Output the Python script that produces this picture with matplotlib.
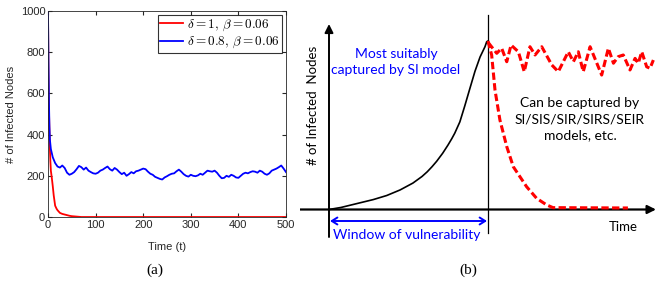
import matplotlib.pyplot as plt
from matplotlib.patches import FancyArrowPatch

# ---- panel (a): simulated infections ----
red_t = [0, 1, 2, 3, 4, 5, 6, 8, 10, 12, 15, 18, 20, 25, 30, 35, 40, 45, 50, 55, 60, 65, 70, 500]
red_v = [1000, 700, 520, 420, 330, 270, 225, 190, 150, 105, 55, 40, 33, 20, 15, 12, 9, 6, 4, 3, 2, 1, 0, 0]

blue_t = [0, 1, 2, 3, 4, 6, 8] + list(range(10, 501, 5))
blue_v = [1000, 750, 560, 440, 375, 330, 310,
          290, 262, 245, 240, 250, 238, 215, 205, 210, 218,
          232, 248, 242, 230, 240, 225, 218, 212, 210, 215,
          225, 230, 238, 245, 232, 225, 238, 230, 218, 208,
          215, 200, 208, 218, 212, 222, 225, 230, 235, 232,
          220, 210, 205, 195, 190, 185, 182, 192, 198, 205,
          210, 212, 222, 230, 220, 208, 200, 196, 205, 200,
          198, 202, 210, 205, 215, 225, 222, 220, 225, 215,
          200, 188, 190, 200, 195, 205, 200, 192, 190, 200,
          210, 215, 212, 218, 222, 220, 215, 225, 220, 210,
          205, 212, 225, 230, 235, 242, 250, 235, 218]

# ---- panel (b): schematic curves (time 0..100 = window, peak = 100) ----
si_t = [0, 7.5, 15.3, 27.9, 36.3, 44.7, 52.8, 58.5, 61.8, 64.8, 67.7, 71.5, 74.8, 77.2, 79.1, 82.3,
        85.4, 88.6, 91.8, 95.0, 98.1, 99.2, 100]
si_v = [0, 1.2, 3.0, 5.9, 8.3, 11.6, 15.7, 19.6, 22.4, 25.4, 28.6, 33.4, 38.2, 42.0, 45.3, 52.0,
        61.5, 71.8, 82.0, 90.5, 96.6, 99.6, 100]

decay_t = [100, 102.3, 104.4, 107.5, 111.8, 115.9, 124.3, 130.6, 136.9, 140.9, 188]
decay_v = [100, 91.7, 70.9, 53.1, 37.3, 25.4, 13.5, 6.6, 2.7, 1.1, 0.9]

osc_t = [100.2, 105.5, 108.6, 111.8, 114.5, 119.1, 122.8, 126.4, 129.6, 133.8,
         140.1, 144.2, 150.5, 153.7, 156.8, 159.9, 164.2, 171.5, 175.7, 178.9,
         181.9, 185.1, 189.3, 192.5, 194.5, 196.7, 199.8, 201.9, 204.0]
osc_v = [99.0, 92.7, 95.7, 87.7, 97.6, 93.6, 81.8, 96.6, 91.7, 96.6,
         85.8, 81.8, 93.6, 87.7, 93.6, 81.8, 96.6, 79.8, 95.7, 86.8,
         90.7, 91.7, 82.8, 89.7, 86.8, 93.6, 84.7, 83.8, 88.7]

W, H = 657, 286
fig = plt.figure(figsize=(W / 100, H / 100), dpi=100)
plt.rcParams['mathtext.fontset'] = 'cm'

tick_col = '#262626'
sans = 'Liberation Sans'

ax = fig.add_axes([48 / W, (H - 217) / H, 238 / W, 206 / H])
ax.plot(red_t, red_v, color='#ff0000', lw=1.3, label=r'$\mathbf{\delta = 1,\, \beta = 0.06}$')
ax.plot(blue_t, blue_v, color='#0000ff', lw=1.3, label=r'$\mathbf{\delta = 0.8,\, \beta = 0.06}$')
ax.set_xlim(0, 500)
ax.set_ylim(0, 1000)
ax.set_xticks([0, 100, 200, 300, 400, 500])
ax.set_yticks([0, 200, 400, 600, 800, 1000])
ax.tick_params(direction='in', top=True, right=True, labelsize=8, colors=tick_col, length=3, pad=2)
for lab in ax.get_xticklabels() + ax.get_yticklabels():
    lab.set_family(sans)
for s in ax.spines.values():
    s.set_color('#262626')
    s.set_linewidth(0.6)
ax.set_xlabel('Time (t)', fontsize=8, color=tick_col, family=sans)
ax.set_ylabel('# of Infected Nodes', fontsize=8, color=tick_col, family=sans)
ax.xaxis.set_label_coords(0.5, -0.12)
ax.yaxis.set_label_coords(-0.134, 0.5)
leg = ax.legend(loc='upper right', fontsize=9.5, fancybox=False, edgecolor='black',
                handlelength=1.7, handletextpad=0.3, borderpad=0.2, labelspacing=0.15,
                borderaxespad=0.3)
leg.get_frame().set_linewidth(0.8)

fig.text(155 / W, 1 - 270 / H, '(a)', family='Liberation Serif', fontsize=11,
         ha='center', va='center')

# ---- right schematic ----
bx = fig.add_axes([300 / W, 0, 357 / W, 1])
px_per_t = 1.59
px_per_v = 1.685
base = 209.5
bx.set_xlim((300 - 329) / px_per_t, (657 - 329) / px_per_t)
bx.set_ylim((base - 286) / px_per_v, base / px_per_v)
bx.axis('off')


def tv(px, py):
    return ((px - 329) / px_per_t, (base - py) / px_per_v)


# time axis
bx.add_patch(FancyArrowPatch(tv(300, base), tv(656, base), arrowstyle='-|>,head_length=5,head_width=2.5',
                             color='black', lw=1.6, shrinkA=0, shrinkB=0))
# infected axis
bx.add_patch(FancyArrowPatch(tv(329, 237), tv(329, 24), arrowstyle='-|>,head_length=5,head_width=2.5',
                             color='black', lw=1.4, shrinkA=0, shrinkB=0))
# window boundary
bx.plot(*zip(tv(488, 15), tv(488, 233)), color='black', lw=0.9)
# window arrow
bx.add_patch(FancyArrowPatch(tv(330, 221), tv(487, 221), arrowstyle='<->,head_length=4,head_width=2.5',
                             color='#0000ff', lw=1.4, shrinkA=0, shrinkB=0))

bx.plot(si_t, si_v, color='black', lw=1.2)
bx.plot(decay_t, decay_v, color='#ff0000', lw=2.2, dashes=(2.4, 1.1))
bx.plot(osc_t, osc_v, color='#ff0000', lw=2.2, dashes=(2.4, 1.1))

txt = dict(family='Lato', ha='center', va='center')
bx.text(*tv(396, 62), 'Most suitably\ncaptured by SI model', color='#0000ff', fontsize=10,
        linespacing=1.45, **txt)
bx.text(*tv(580, 119), 'Can be captured by\nSI/SIS/SIR/SIRS/SEIR\nmodels, etc.', color='black',
        fontsize=10, linespacing=1.45, **txt)
bx.text(*tv(407, 235), 'Window of vulnerability', color='#0000ff', fontsize=10, **txt)
bx.text(*tv(623, 227), 'Time', color='black', fontsize=9.5, **txt)
bx.text(*tv(313, 105), '# of Infected  Nodes', color='black', fontsize=9.5, rotation=90, **txt)

fig.text(468 / W, 1 - 270 / H, '(b)', family='Liberation Serif', fontsize=11,
         ha='center', va='center')

fig.savefig('out.png', dpi=100)
